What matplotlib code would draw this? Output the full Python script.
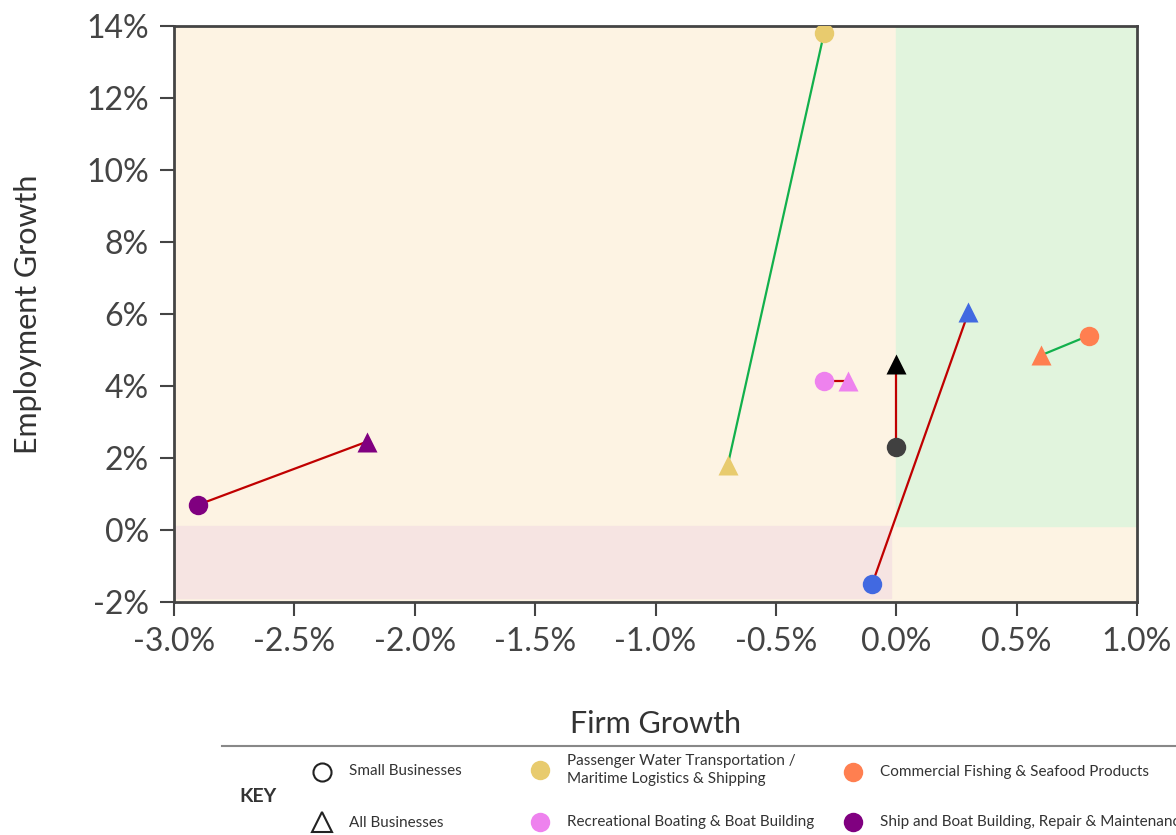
import matplotlib.pyplot as plt
from matplotlib.patches import Rectangle

plt.rcParams['font.family'] = ['Lato', 'DejaVu Sans']

# industries: small businesses (circle) vs all businesses (triangle)
industries = ["Ship and Boat Building, Repair & Maintenance",
              "Passenger Water Transportation / Maritime Logistics & Shipping",
              "Recreational Boating & Boat Building",
              "Total",
              "Marine Tech",
              "Commercial Fishing & Seafood Products"]
colors = ["#800080", "#e8cb6e", "#ee82ee", "#404040", "#4169e1", "#ff7f50"]
tri_colors = ["#800080", "#e8cb6e", "#ee82ee", "#000000", "#4169e1", "#ff7f50"]
small_firm = [-2.9, -0.3, -0.3, 0.0, -0.1, 0.8]
small_emp = [0.7, 13.8, 4.15, 2.3, -1.5, 5.4]
all_firm = [-2.2, -0.7, -0.2, 0.0, 0.3, 0.6]
all_emp = [2.45, 1.8, 4.15, 4.6, 6.05, 4.85]

xticks = [-3.0, -2.5, -2.0, -1.5, -1.0, -0.5, 0.0, 0.5, 1.0]
yticks = [-2, 0, 2, 4, 6, 8, 10, 12, 14]

fig = plt.figure(figsize=(11.76, 8.35), dpi=100)
ax = fig.add_axes([174/1176, 1 - 602/835, (1137-174)/1176, (602-26)/835])

ax.set_xlim(-3, 1)
ax.set_ylim(-2, 14)
ax.set_facecolor("#fdf3e3")
ax.add_patch(Rectangle((0, 0.1), 1, 13.9, color="#e1f4dd", zorder=0))
ax.add_patch(Rectangle((-3, -1.9), 2.98, 2.0, color="#f6e4e2", zorder=0))

for i in range(len(industries)):
    good = small_emp[i] > all_emp[i]
    ax.plot([small_firm[i], all_firm[i]], [small_emp[i], all_emp[i]],
            color="#12b04c" if good else "#c00000", lw=1.6, zorder=2)
    ax.plot(small_firm[i], small_emp[i], 'o', ms=14, color=colors[i],
            mec='none', zorder=3)
    ax.plot(all_firm[i], all_emp[i], '^', ms=15, color=tri_colors[i],
            mec='none', zorder=3)

ax.set_xticks(xticks)
ax.set_xticklabels([f"{v:.1f}%" for v in xticks])
ax.set_yticks(yticks)
ax.set_yticklabels([f"{v}%" for v in yticks])
ax.tick_params(labelsize=23, colors="#444444", length=10, width=1.5, pad=8)
for s in ax.spines.values():
    s.set_color("#444444")
    s.set_linewidth(2)
ax.set_xlabel("Firm Growth", fontsize=22, color="#333333", labelpad=38)
ax.set_ylabel("Employment Growth", fontsize=22, color="#333333", labelpad=32)

# key
kax = fig.add_axes([0, 0, 1, 1])
kax.set_xlim(0, 1176)
kax.set_ylim(835, 0)
kax.axis('off')
kax.plot([222, 1176], [746, 746], color="#888888", lw=1.5)
kax.text(258, 797, "KEY", fontsize=14, fontweight='bold', color="#333333",
         ha='center', va='center')
kax.plot(322, 772, 'o', ms=13, mfc='none', mec='#222222', mew=1.5)
kax.plot(322, 822, '^', ms=14, mfc='none', mec='#222222', mew=1.5)
kax.text(349, 771, "Small Businesses", fontsize=11, color="#333333", va='center')
kax.text(349, 823, "All Businesses", fontsize=11, color="#333333", va='center')

key_items = [(540, 770, colors[1], "Passenger Water Transportation /\nMaritime Logistics & Shipping"),
             (540, 822, colors[2], industries[2]),
             (853, 772, colors[5], industries[5]),
             (853, 822, colors[0], industries[0])]
for kx, ky, c, lab in key_items:
    kax.plot(kx, ky, 'o', ms=14, color=c, mec='none')
    kax.text(kx + 27, ky, lab, fontsize=11, color="#333333", va='center',
             linespacing=1.4)

fig.savefig("out.png", dpi=100)
